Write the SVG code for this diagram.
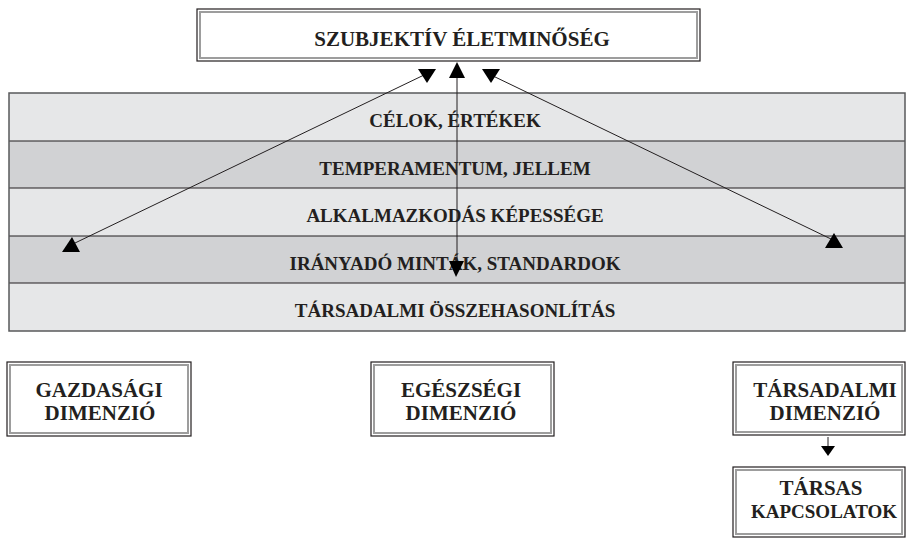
<svg xmlns="http://www.w3.org/2000/svg" width="907" height="538" viewBox="0 0 907 538">
<style>
.t{font-family:"Liberation Serif","Times New Roman",serif;font-weight:bold;fill:#231f20;text-anchor:middle}
.bt{font-size:19px}
.nt{font-size:21px}
.outer{fill:#fff;stroke:#231f20;stroke-width:1.2}
.inner{fill:none;stroke:#9d9d9d;stroke-width:2}
.light{fill:#e6e7e8}
.dark{fill:#d1d2d4}
.div{stroke:#231f20;stroke-width:1}
.con{stroke:#231f20;stroke-width:1;fill:none}
.head{fill:#000}
</style>
<g id="top">
<rect class="outer" x="197" y="9" width="503" height="52"/>
<rect class="inner" x="200" y="12" width="497" height="46"/>
<text class="t" x="462" y="46" font-size="21">SZUBJEKTÍV ÉLETMINŐSÉG</text>
</g>
<g id="bands">
<rect class="light" x="9" y="93" width="896" height="48"/>
<rect class="dark" x="9" y="141" width="896" height="47"/>
<rect class="light" x="9" y="188" width="896" height="48"/>
<rect class="dark" x="9" y="236" width="896" height="47"/>
<rect class="light" x="9" y="283" width="896" height="48"/>
<line class="div" x1="9" y1="141" x2="905" y2="141"/>
<line class="div" x1="9" y1="188" x2="905" y2="188"/>
<line class="div" x1="9" y1="236" x2="905" y2="236"/>
<line class="div" x1="9" y1="283" x2="905" y2="283"/>
<rect x="9" y="93" width="896" height="238" fill="none" stroke="#58595b" stroke-width="1.5"/>
<text class="t bt" x="455" y="127">CÉLOK, ÉRTÉKEK</text>
<text class="t bt" x="455" y="175">TEMPERAMENTUM, JELLEM</text>
<text class="t bt" x="455" y="222">ALKALMAZKODÁS KÉPESSÉGE</text>
<text class="t bt" x="455" y="270">IRÁNYADÓ MINTÁK, STANDARDOK</text>
<text class="t bt" x="455" y="317">TÁRSADALMI ÖSSZEHASONLÍTÁS</text>
</g>
<g id="gazdasagi">
<rect class="outer" x="7" y="362" width="184" height="74"/>
<rect class="inner" x="10" y="365" width="178" height="68"/>
<text class="t nt" x="99" y="397">GAZDASÁGI</text>
<text class="t nt" x="100" y="420">DIMENZIÓ</text>
</g>
<g id="egeszsegi">
<rect class="outer" x="371" y="362" width="183" height="74"/>
<rect class="inner" x="374" y="365" width="177" height="68"/>
<text class="t nt" x="461" y="397">EGÉSZSÉGI</text>
<text class="t nt" x="461" y="420">DIMENZIÓ</text>
</g>
<g id="tarsadalmi">
<rect class="outer" x="733" y="362" width="172" height="73"/>
<rect class="inner" x="736" y="365" width="166" height="67"/>
<text class="t nt" x="825" y="397">TÁRSADALMI</text>
<text class="t nt" x="825" y="420">DIMENZIÓ</text>
</g>
<g id="tarsas">
<rect class="outer" x="733" y="467" width="172" height="70"/>
<rect class="inner" x="736" y="470" width="166" height="64"/>
<text class="t nt" x="821" y="495">TÁRSAS</text>
<text class="t" x="824" y="518" font-size="19">KAPCSOLATOK</text>
</g>
<g id="connectors">
<line class="con" x1="75" y1="243" x2="424" y2="75"/>
<polygon class="head" points="62,252 80,252 72,237"/>
<polygon class="head" points="418,69 436,69 427,83"/>
<line class="con" x1="457" y1="75" x2="457" y2="264"/>
<polygon class="head" points="449,78 465,78 457,62"/>
<polygon class="head" points="449,261 464,261 456,277"/>
<line class="con" x1="491" y1="75" x2="831" y2="239"/>
<polygon class="head" points="482,69 500,69 491,83"/>
<polygon class="head" points="825,248 843,248 834,233"/>
<line class="con" x1="828" y1="437" x2="828" y2="447"/>
<polygon class="head" points="821,446 835,446 828,456"/>
</g>
</svg>
